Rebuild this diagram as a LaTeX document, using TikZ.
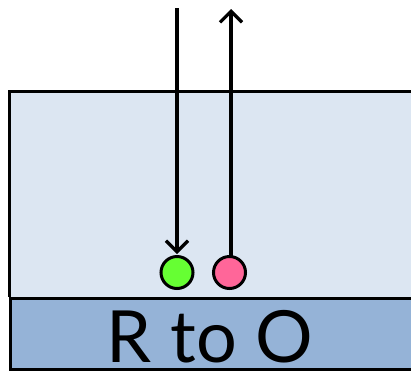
\documentclass[tikz,border=0pt]{standalone}
\usepackage{fontspec}
\setmainfont{Lato}
\usetikzlibrary{arrows.meta}
\definecolor{lightbg}{HTML}{DCE6F2}
\definecolor{darkbg}{HTML}{95B3D7}
\definecolor{ggreen}{HTML}{66FF33}
\definecolor{ppink}{HTML}{FF6699}
\tikzset{
  box/.style={draw=black, line width=3pt},
  ball/.style={circle, draw=black, line width=3pt, minimum size=32pt, inner sep=0pt},
  arr/.style={line width=3.2pt, -{Straight Barb[length=11pt,width=22pt,line width=3.2pt]}}
}
\begin{document}
\begin{tikzpicture}[x=1pt,y=-1pt]
\useasboundingbox (0,0) rectangle (411,370);
\fill[lightbg] (9,91) rectangle (413,297);
\draw[box] (413,91) -- (9,91) -- (9,297);
\node[box, fill=darkbg, anchor=north west, minimum width=410pt, minimum height=71pt, inner sep=0pt] (bar) at (9,296.5) {};
\node[font=\fontsize{72}{72}\selectfont, inner sep=0pt, anchor=base] (lbl) at (210,362) {R to O};
\node[ball, fill=ggreen] (g) at (177,272.5) {};
\node[ball, fill=ppink] (p) at (229.5,272.5) {};
\coordinate (gtop) at (177,8);
\coordinate (ptop) at (231,9);
\draw[arr] (gtop) -- ([yshift=1pt]g.north);
\draw[arr] ([xshift=1.5pt,yshift=-3pt]p.north) -- (ptop);
\end{tikzpicture}
\end{document}
